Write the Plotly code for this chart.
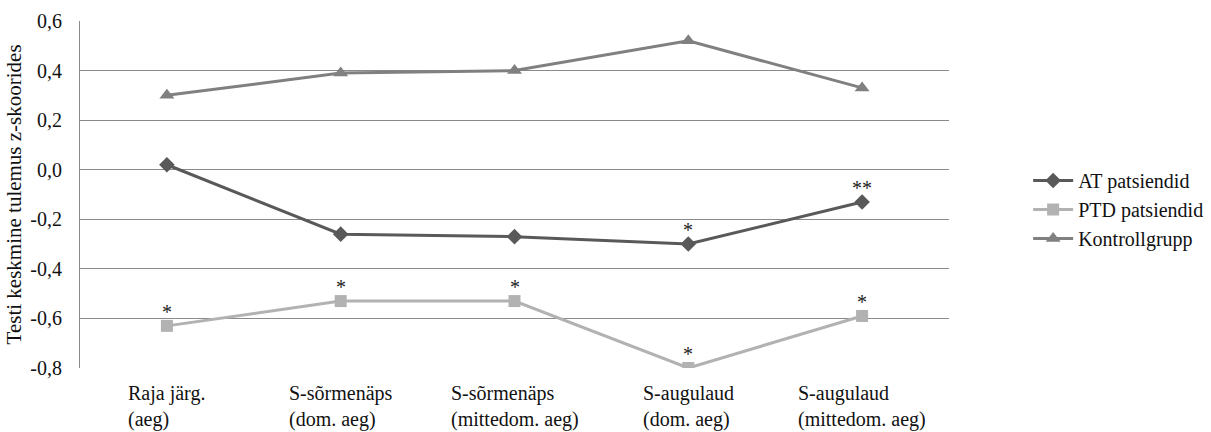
import plotly.graph_objects as go

categories = ["Raja järg.<br>(aeg)", "S-sõrmenäps<br>(dom. aeg)", "S-sõrmenäps<br>(mittedom. aeg)",
              "S-augulaud<br>(dom. aeg)", "S-augulaud<br>(mittedom. aeg)"]
at_values = [0.02, -0.26, -0.27, -0.30, -0.13]
ptd_values = [-0.63, -0.53, -0.53, -0.80, -0.59]
kontroll_values = [0.30, 0.39, 0.40, 0.52, 0.33]
at_marks = ["", "", "", "*", "**"]
ptd_marks = ["*", "*", "*", "*", "*"]
ytick_vals = [-0.8, -0.6, -0.4, -0.2, 0.0, 0.2, 0.4, 0.6]
ytick_text = ["-0,8", "-0,6", "-0,4", "-0,2", "0,0", "0,2", "0,4", "0,6"]

FONT = "Liberation Serif"
FS = 20
idx = list(range(len(categories)))

fig = go.Figure()
fig.add_trace(go.Scatter(x=idx, y=at_values, name="AT patsiendid", mode="lines+markers",
                         line=dict(color="#595959", width=3),
                         marker=dict(symbol="diamond", size=12, color="#595959")))
fig.add_trace(go.Scatter(x=idx, y=ptd_values, name="PTD patsiendid", mode="lines+markers",
                         line=dict(color="#b2b2b2", width=3),
                         marker=dict(symbol="square", size=12, color="#b2b2b2")))
fig.add_trace(go.Scatter(x=idx, y=kontroll_values, name="Kontrollgrupp", mode="lines+markers",
                         line=dict(color="#808080", width=3),
                         marker=dict(symbol="triangle-up", size=13, color="#808080")))

annotations = []
for i, (v, m) in enumerate(zip(at_values, at_marks)):
    if m:
        annotations.append(dict(x=i, y=v, xref="x", yref="y", text=m, showarrow=False,
                                yshift=14, font=dict(family=FONT, size=FS, color="#222")))
for i, (v, m) in enumerate(zip(ptd_values, ptd_marks)):
    if m:
        annotations.append(dict(x=i, y=v, xref="x", yref="y", text=m, showarrow=False,
                                yshift=14, font=dict(family=FONT, size=FS, color="#222")))
for i, c in enumerate(categories):
    annotations.append(dict(x=i, y=-0.034, xref="x", yref="paper", text=c, showarrow=False,
                            xanchor="center", yanchor="top", align="left",
                            font=dict(family=FONT, size=FS, color="#111")))
annotations.append(dict(x=-0.076, y=0.5, xref="paper", yref="paper",
                        text="Testi keskmine tulemus z-skoorides", textangle=-90,
                        showarrow=False, xanchor="center", yanchor="middle",
                        font=dict(family=FONT, size=21, color="#111")))

fig.update_layout(
    width=1211, height=432,
    margin=dict(l=80, r=262, t=21, b=64, autoexpand=False),
    paper_bgcolor="white", plot_bgcolor="white",
    font=dict(family=FONT, size=FS, color="#111"),
    showlegend=True,
    legend=dict(xref="container", yref="container", x=0.849, y=0.515,
                xanchor="left", yanchor="middle",
                font=dict(family=FONT, size=FS, color="#111"),
                tracegroupgap=0, itemwidth=40),
    annotations=annotations,
)
fig.update_xaxes(range=[-0.5, len(categories) - 0.5], showticklabels=False, showgrid=False,
                 zeroline=False, showline=False, ticks="")
fig.update_yaxes(range=[-0.8, 0.6], tickvals=ytick_vals, ticktext=ytick_text,
                 showgrid=True, gridcolor="#8a8a8a", gridwidth=1, zeroline=False,
                 showline=True, linecolor="#8a8a8a", linewidth=1, ticks="",
                 ticklabelstandoff=13, tickfont=dict(family=FONT, size=FS, color="#111"))

fig.write_html("out.html", config={"displayModeBar": False},
               post_script="document.body.style.margin='0';document.body.style.overflow='hidden';")
